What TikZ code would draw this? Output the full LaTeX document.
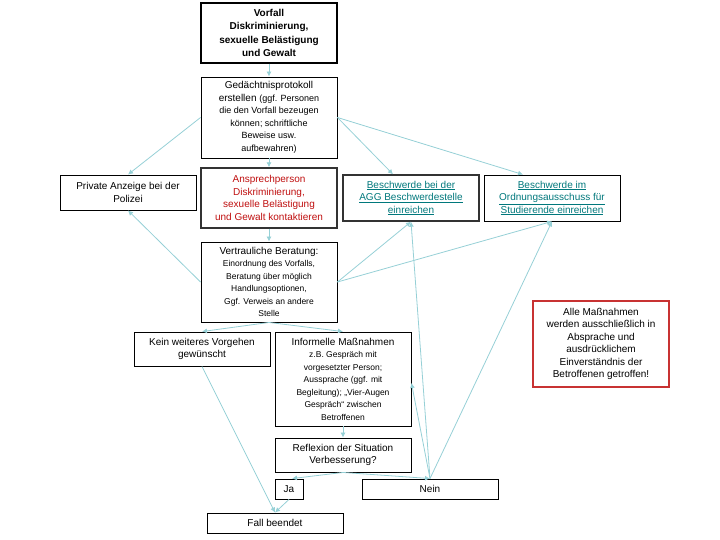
\documentclass[tikz,border=0pt]{standalone}
\usepackage{fontspec}
\setmainfont{Liberation Sans}
\usepackage{xcolor}
\usepackage{tikz}
\usetikzlibrary{arrows.meta, positioning}

\definecolor{connblue}{RGB}{150,208,214}
\definecolor{darkred}{RGB}{192,16,16}
\definecolor{linkteal}{RGB}{0,120,124}
\definecolor{notered}{RGB}{200,50,50}
\newcommand{\smalltxt}{\fontsize{8.5}{12.2}\selectfont}
\newcommand{\midtxt}{\fontsize{9}{12.5}\selectfont}
\newcommand{\lnk}[1]{\underline{#1}}

\begin{document}
\begin{tikzpicture}[x=1pt, y=-1pt,
    box/.style={draw=black, line width=0.9pt, fill=white, align=center,
        inner sep=1pt, minimum width=136pt, font=\fontsize{10}{12.5}\selectfont},
    heavy/.style={draw=black!80, line width=1.4pt},
    conn/.style={draw=connblue, line width=0.8pt, -{Latex[length=5pt,width=5pt]}}]
\useasboundingbox (0,0) rectangle (720,540);

% Boxes
\node[box, heavy, draw=black, minimum height=60pt, font=\bfseries\fontsize{10}{13.3}\selectfont] (vorfall) at (269,33)
    {Vorfall\\Diskriminierung,\\sexuelle Belästigung\\und Gewalt};
\node[box, minimum height=81pt] (ged) at (269,117.5)
    {Gedächtnisprotokoll\\erstellen {\midtxt(ggf. Personen}\\{\midtxt die den Vorfall bezeugen}\\{\midtxt können; schriftliche}\\{\midtxt Beweise usw.}\\{\midtxt aufbewahren)}};
\node[box, heavy, minimum height=60pt, text=darkred] (ansp) at (269,198)
    {Ansprechperson\\Diskriminierung,\\sexuelle Belästigung\\und Gewalt kontaktieren};
\node[box, minimum height=35pt] (anzeige) at (128,192.5)
    {Private Anzeige bei der\\Polizei};
\node[box, heavy, minimum height=46pt, text=linkteal] (agg) at (411,198)
    {\lnk{Beschwerde bei der}\\\lnk{AGG Beschwerdestelle}\\\lnk{einreichen}};
\node[box, minimum height=46pt, text=linkteal] (ord) at (552,198)
    {\lnk{Beschwerde im}\\\lnk{Ordnungsausschuss für}\\\lnk{Studierende einreichen}};
\node[box, minimum height=80pt] (ber) at (269,282)
    {Vertrauliche Beratung:\\{\smalltxt Einordnung des Vorfalls,}\\{\smalltxt Beratung über möglich}\\{\smalltxt Handlungsoptionen,}\\{\smalltxt Ggf. Verweis an andere}\\{\smalltxt Stelle}};
\node[box, minimum height=34pt] (kein) at (202,349)
    {Kein weiteres Vorgehen\\gewünscht};
\node[box, minimum height=94pt] (inf) at (343,379)
    {Informelle Maßnahmen\\{\smalltxt z.B. Gespräch mit}\\{\smalltxt vorgesetzter Person;}\\{\smalltxt Aussprache (ggf. mit}\\{\smalltxt Begleitung); „Vier-Augen}\\{\smalltxt Gespräch“ zwischen}\\{\smalltxt Betroffenen}};
\node[box, minimum height=34pt] (refl) at (343,455)
    {Reflexion der Situation\\Verbesserung?};
\node[box, minimum width=28pt, minimum height=20pt] (ja) at (289,489) {Ja};
\node[box, minimum height=20pt] (nein) at (430,489) {Nein};
\node[box, minimum height=20pt] (fall) at (275,523) {Fall beendet};
\node[box, draw=notered, line width=1.1pt, minimum height=86pt] (note) at (601,344)
    {Alle Maßnahmen\\werden ausschließlich in\\Absprache und\\ausdrücklichem\\Einverständnis der\\Betroffenen getroffen!};

% Connectors
\draw[conn] (vorfall) -- (ged);
\draw[conn] (ged) -- (ansp);
\draw[conn] (ansp) -- (ber);
\draw[conn] (ged.west) -- (anzeige.north);
\draw[conn] (ged.east) -- ([xshift=-18pt]agg.north);
\draw[conn] (ged.east) -- ([xshift=-29pt]ord.north);
\draw[conn] (ber.west) -- (anzeige.south);
\draw[conn] (ber.east) -- (agg.south);
\draw[conn] (ber.east) -- (ord.south);
\draw[conn] (ber.south) -- (kein.north);
\draw[conn] (ber.south) -- (inf.north);
\draw[conn] (inf) -- (refl);
\draw[conn] (refl.south) -- ([xshift=3pt]ja.north);
\draw[conn] (refl.south) -- (nein.north);
\draw[conn] (nein.north) -- (agg.south);
\draw[conn] (nein.north) -- (ord.south);
\draw[conn] (nein.north) -- ([yshift=-4pt]inf.east);
\draw[conn] (kein.south) -- (fall.north);
\draw[conn] (ja.south) -- (fall.north);
\end{tikzpicture}
\end{document}
